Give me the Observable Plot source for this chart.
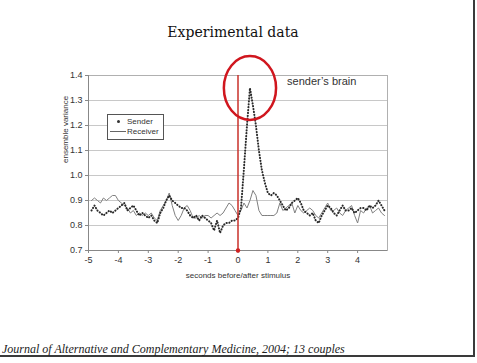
<!DOCTYPE html>
<html>
<head>
<meta charset="utf-8">
<script src="https://cdn.jsdelivr.net/npm/d3@7"></script>
<script src="https://cdn.jsdelivr.net/npm/@observablehq/plot@0.6"></script>
<style>
  html, body { margin: 0; padding: 0; background: #fff; }
  #slide { position: relative; width: 477px; height: 363px; overflow: hidden; background: #fff; }
  #border { position: absolute; left: 0; top: 0; width: 473px; height: 355px;
            border-right: 2px solid #3a3a3a; border-bottom: 2px solid #3a3a3a; }
  #title { position: absolute; left: 0; width: 466px; top: 24px; text-align: center;
           font-family: "DejaVu Serif", serif; font-size: 14px; color: #111; }
  #chart { position: absolute; left: 30px; top: 60px; }
  #legend { position: absolute; left: 107px; top: 114px; width: 55px; height: 24px;
            border: 1px solid #555; background: #fff;
            font-family: "Liberation Sans", Arial, sans-serif; font-size: 8px; color: #333; }
  #legend .row { position: absolute; left: 0; height: 10px; line-height: 10px; }
  #legend .sw { position: absolute; top: 4px; }
  #caption { position: absolute; left: 2px; top: 342px; font-family: "Liberation Serif", serif;
             font-style: italic; font-size: 12px; color: #222; white-space: nowrap; }
</style>
</head>
<body>
<div id="slide">
  <div id="border"></div>
  <div id="title">Experimental data</div>
  <div id="chart"></div>
  <div id="legend">
    <div class="row" style="top:2px"><span class="sw" style="left:9px;top:3px;width:3px;height:3px;border-radius:50%;background:#333"></span><span style="position:absolute;left:19px">Sender</span></div>
    <div class="row" style="top:12px"><span class="sw" style="left:2px;width:16px;height:0;border-top:1px solid #666"></span><span style="position:absolute;left:19px">Receiver</span></div>
  </div>
  <div id="caption">Journal of Alternative and Complementary Medicine, 2004; 13 couples</div>
</div>
<script>
// Time relative to the stimulus, in seconds
const seconds = [
  -4.9, -4.8, -4.7, -4.6, -4.5, -4.4, -4.3, -4.2, -4.1, -4.0,
  -3.9, -3.8, -3.7, -3.6, -3.5, -3.4, -3.3, -3.2, -3.1, -3.0,
  -2.9, -2.8, -2.7, -2.6, -2.5, -2.4, -2.3, -2.2, -2.1, -2.0,
  -1.9, -1.8, -1.7, -1.6, -1.5, -1.4, -1.3, -1.2, -1.1, -1.0,
  -0.9, -0.8, -0.7, -0.6, -0.5, -0.4, -0.3, -0.2, -0.1, 0.0,
  0.1, 0.2, 0.3, 0.4, 0.5, 0.6, 0.7, 0.8, 0.9, 1.0,
  1.1, 1.2, 1.3, 1.4, 1.5, 1.6, 1.7, 1.8, 1.9, 2.0,
  2.1, 2.2, 2.3, 2.4, 2.5, 2.6, 2.7, 2.8, 2.9, 3.0,
  3.1, 3.2, 3.3, 3.4, 3.5, 3.6, 3.7, 3.8, 3.9, 4.0,
  4.1, 4.2, 4.3, 4.4, 4.5, 4.6, 4.7, 4.8, 4.9
];

// Ensemble variance of the sender's EEG
const sender = [
  0.86, 0.88, 0.86, 0.85, 0.84, 0.85, 0.86, 0.85, 0.86, 0.87,
  0.88, 0.89, 0.86, 0.87, 0.88, 0.86, 0.84, 0.85, 0.84, 0.83,
  0.84, 0.82, 0.81, 0.85, 0.87, 0.90, 0.92, 0.90, 0.89, 0.88,
  0.87, 0.87, 0.86, 0.84, 0.83, 0.84, 0.82, 0.84, 0.83, 0.82,
  0.81, 0.78, 0.82, 0.77, 0.80, 0.81, 0.81, 0.82, 0.82, 0.83,
  0.87, 1.03, 1.20, 1.35, 1.28, 1.20, 1.10, 1.02, 0.97, 0.93,
  0.92, 0.93, 0.92, 0.90, 0.88, 0.86, 0.87, 0.89, 0.90, 0.91,
  0.89, 0.86, 0.85, 0.84, 0.85, 0.82, 0.81, 0.84, 0.86, 0.88,
  0.87, 0.85, 0.84, 0.86, 0.88, 0.86, 0.86, 0.87, 0.85, 0.86,
  0.87, 0.87, 0.86, 0.88, 0.87, 0.88, 0.90, 0.88, 0.86
];

// Ensemble variance of the receiver's EEG
const receiver = [
  0.90, 0.91, 0.90, 0.89, 0.91, 0.90, 0.91, 0.92, 0.92, 0.90,
  0.89, 0.88, 0.87, 0.85, 0.86, 0.84, 0.85, 0.84, 0.85, 0.84,
  0.85, 0.83, 0.82, 0.86, 0.88, 0.90, 0.93, 0.88, 0.84, 0.82,
  0.84, 0.87, 0.88, 0.86, 0.83, 0.83, 0.84, 0.83, 0.84, 0.84,
  0.83, 0.84, 0.85, 0.84, 0.85, 0.87, 0.89, 0.88, 0.86, 0.84,
  0.86, 0.89, 0.87, 0.90, 0.94, 0.92, 0.86, 0.84, 0.84, 0.84,
  0.84, 0.84, 0.85, 0.89, 0.86, 0.87, 0.88, 0.89, 0.85, 0.88,
  0.86, 0.85, 0.86, 0.87, 0.86, 0.84, 0.83, 0.85, 0.87, 0.89,
  0.86, 0.86, 0.87, 0.85, 0.84, 0.86, 0.87, 0.88, 0.84, 0.81,
  0.86, 0.85, 0.87, 0.88, 0.85, 0.86, 0.87, 0.85, 0.84
];

const xTicks = [-5, -4, -3, -2, -1, 0, 1, 2, 3, 4];
const yTicks = [0.7, 0.8, 0.9, 1.0, 1.1, 1.2, 1.3, 1.4];
const stimulus = [0];
const note = "sender\u2019s brain";

const rows = seconds.map((t, i) => ({t, sender: sender[i], receiver: receiver[i]}));
const peak = rows.reduce((a, b) => (b.sender > a.sender ? b : a));

// Ellipse-shaped symbol used to circle the sender's response peak
const ellipse = {
  draw(ctx, size) {
    const r = Math.sqrt(size / Math.PI);
    const rx = r * 0.9, ry = r * 1.1, k = 0.5523;
    ctx.moveTo(rx, 0);
    ctx.bezierCurveTo(rx, ry * k, rx * k, ry, 0, ry);
    ctx.bezierCurveTo(-rx * k, ry, -rx, ry * k, -rx, 0);
    ctx.bezierCurveTo(-rx, -ry * k, -rx * k, -ry, 0, -ry);
    ctx.bezierCurveTo(rx * k, -ry, rx, -ry * k, rx, 0);
    ctx.closePath();
  }
};

const chart = Plot.plot({
  width: 370,
  height: 230,
  marginLeft: 58,
  marginTop: 15,
  marginRight: 13,
  marginBottom: 40,
  x: {domain: [-5, 5]},
  y: {domain: [0.7, 1.4]},
  style: {fontFamily: "'Liberation Sans', Arial, sans-serif", fontSize: "9px", color: "#333", background: "transparent", overflow: "visible"},
  marks: [
    Plot.gridY(yTicks, {stroke: "#c8c8c8", strokeOpacity: 1}),
    Plot.frame({stroke: "#b0b0b0"}),
    Plot.ruleY([0.7], {stroke: "#888"}),
    Plot.ruleX([-5], {stroke: "#888"}),
    Plot.axisX(xTicks, {tickFormat: d => String(d), tickSize: 3, tickPadding: 3, stroke: "#888", label: null, fill: "#333"}),
    Plot.axisY(yTicks, {tickFormat: d3.format(".1f"), tickSize: 3, tickPadding: 3, stroke: "#888", label: null, fill: "#333"}),
    Plot.text(["seconds before/after stimulus"], {frameAnchor: "bottom", dy: 27, fontSize: 8, fill: "#333"}),
    Plot.text(["ensemble variance"], {frameAnchor: "left", dx: -23, rotate: -90, fontSize: 8, fill: "#333"}),
    Plot.line(rows, {x: "t", y: "receiver", stroke: "#808080", strokeWidth: 1}),
    Plot.line(rows, {x: "t", y: "sender", stroke: "#2a2a2a", strokeWidth: 2, strokeLinecap: "round", strokeDasharray: "0.3,2.6"}),
    Plot.ruleX(stimulus, {y1: 0.7, y2: 1.4, stroke: "#c8302a", strokeWidth: 1.5}),
    Plot.dot(stimulus, {x: d => d, y: 0.7, r: 2.2, fill: "#d02020"}),
    Plot.dot([peak], {x: "t", y: "sender", r: 29, symbol: ellipse, stroke: "#d0161e", strokeWidth: 2.5, fill: "none"}),
    Plot.text([note], {x: 2.8, y: 1.375, fontSize: 11, fill: "#333"})
  ]
});

document.getElementById("chart").appendChild(chart);
</script>
</body>
</html>
